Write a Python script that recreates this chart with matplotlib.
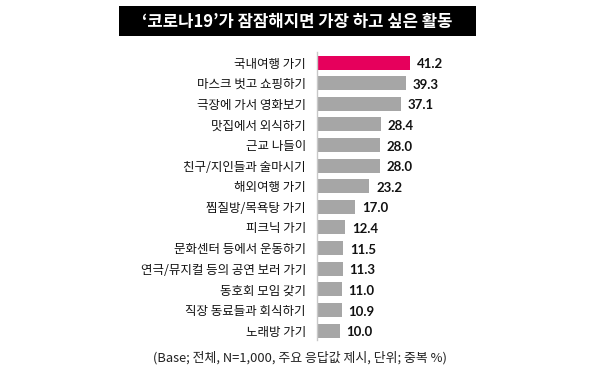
import matplotlib
matplotlib.use("Agg")
import matplotlib.pyplot as plt
import matplotlib.patches as patches

plt.rcParams['font.family'] = ['Noto Sans CJK KR', 'DejaVu Sans']

# 데이터
activities = ['국내여행 가기', '마스크 벗고 쇼핑하기', '극장에 가서 영화보기', '맛집에서 외식하기',
              '근교 나들이', '친구/지인들과 술마시기', '해외여행 가기', '찜질방/목욕탕 가기',
              '피크닉 가기', '문화센터 등에서 운동하기', '연극/뮤지컬 등의 공연 보러 가기',
              '동호회 모임 갖기', '직장 동료들과 회식하기', '노래방 가기']
values = [41.2, 39.3, 37.1, 28.4, 28.0, 28.0, 23.2, 17.0, 12.4, 11.5, 11.3, 11.0, 10.9, 10.0]
title = '‘코로나19’가 잠잠해지면 가장 하고 싶은 활동'
note = '(Base; 전체, N=1,000, 주요 응답값 제시, 단위; 중복 %)'

pink = '#E6005C'
gray = '#A6A6A6'

fig = plt.figure(figsize=(6, 3.78), dpi=100)
fig.patch.set_facecolor('white')

# 제목 박스
fig.patches.append(patches.Rectangle((119/600, 1-36/378), (476-119)/600, 30/378,
                                     transform=fig.transFigure, facecolor='black',
                                     edgecolor='none'))
fig.text(0.496, 1-21.5/378, title, color='white', fontsize=12, fontweight='bold',
         ha='center', va='center')

ax = fig.add_axes([317/600, 1-340/378, 180.6/600, 288/378])
pos = list(range(len(activities)))
colors = [pink] + [gray] * (len(values) - 1)
ax.barh(pos, values, height=0.68, color=colors, edgecolor='none')

for p, v in zip(pos, values):
    ax.text(v + 3.0, p + 0.08, f'{v:.1f}', va='center', ha='left',
            fontsize=9.5, fontweight='bold', family='Lato', color='#111111')

ax.set_xlim(0, 80)
ax.set_ylim(13.46, -0.51)
ax.set_yticks(pos)
ax.set_yticklabels(activities, fontsize=9, color='#111111')
ax.tick_params(axis='y', length=0, pad=8)
ax.set_xticks([])
for s in ['top', 'right', 'bottom']:
    ax.spines[s].set_visible(False)
ax.spines['left'].set_color('#C8C8C8')
ax.spines['left'].set_linewidth(1.0)

fig.text(0.5, 1-358/378, note, fontsize=9.3, color='#222222', ha='center', va='center')

fig.savefig('out.png', dpi=100)
